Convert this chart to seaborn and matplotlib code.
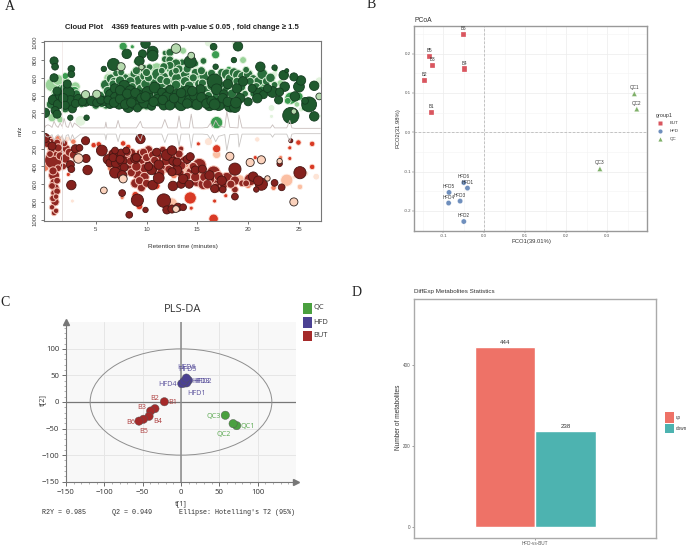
import matplotlib
matplotlib.use("Agg")
import matplotlib.pyplot as plt
from matplotlib.patches import Ellipse, Rectangle
import pandas as pd
import seaborn as sns

sns.set_theme(style="white")
plt.rcParams["font.family"] = ["Liberation Sans", "DejaVu Sans"]
W, H = 686, 546
fig = plt.figure(figsize=(W / 100, H / 100), dpi=100, facecolor="white")


def ax_px(l, t, r, b):
    return fig.add_axes([l / W, 1 - b / H, (r - l) / W, (b - t) / H])


def ftext(x, y, s, **k):
    k.setdefault("va", "center")
    return fig.text(x / W, 1 - y / H, s, **k)


def frect(x0, y0, x1, y1, color):
    fig.add_artist(Rectangle((x0 / W, 1 - y1 / H), (x1 - x0) / W, (y1 - y0) / H,
                             transform=fig.transFigure, fc=color, ec="none"))


# ---------- Panel A data: (retention time, m/z, bubble diameter) ----------
trace_rt = [0, .1, .3, .5, .7, .9, 1.1, 1.3, 1.5, 1.7, 1.9, 2.1, 2.3, 2.5, 2.7, 2.9, 3.5, 5, 5.9, 6.0, 6.1, 7, 7.2, 7.4, 8, 9, 9.4, 9.6, 9.8, 11.5,
            11.8, 12.1, 13, 13.2, 13.4, 14.2, 14.4, 14.6, 15.5, 16, 16.3, 16.5, 16.8, 17.1, 17.7, 17.9, 18.2, 19, 19.1, 19.4, 20, 22.2, 22.4, 22.6, 23.8, 24.1, 24.3, 24.6, 27.1]
trace_top = [40, 60, 70, 60, 40, 110, 60, 40, 90, 50, 140, 50, 40, 110, 40, 90, 35, 35, 35, 100, 35, 35, 120, 35, 35, 35, 110, 40, 35, 35,
             130, 35, 35, 170, 35, 35, 190, 35, 35, 40, 90, 40, 120, 60, 40, 220, 40, 35, 180, 35, 35, 35, 70, 35, 35, 120, 35, 30, 30]
tic_x = [1.7, 1.7]
tic_y = [30, 1015]

top_faint = [(16.1, 995, 6), (18.6, 995, 4), (3.5, 115, 8), (27, 565, 6), (27, 170, 3), (22.3, 260, 5), (25.2, 245, 4), (22.3, 165, 3),
             (12.0, 680, 5), (14.8, 690, 6), (22.6, 640, 5), (20.3, 660, 4), (16.9, 720, 3), (8.7, 590, 6), (6.3, 650, 5)]
top_light = [(0.7, 520, 10), (1.3, 575, 8), (2.1, 560, 6), (3.0, 500, 7), (6.2, 600, 6), (0.7, 150, 6), (1.5, 130, 5), (7.5, 610, 7), (11, 700, 9),
             (13.6, 905, 5), (19.5, 800, 5), (12.9, 930, 7), (24.8, 300, 4), (9.4, 640, 6), (23.2, 540, 5), (1.0, 430, 6), (15.3, 590, 6), (18.4, 530, 6), (20.8, 430, 5), (8.3, 610, 5), (12.9, 500, 5)]
top_mid = [(7.7, 955, 6), (8.6, 950, 3), (16.9, 95, 9), (16.8, 860, 6), (24.2, 370, 9), (1.6, 480, 6), (2.9, 450, 7), (2.0, 620, 5), (10.4, 560, 6), (12.3, 690, 5),
           (15.0, 640, 6), (19.4, 470, 5), (21.2, 510, 6), (23.9, 340, 5), (25.0, 390, 6), (6.3, 350, 5), (9.7, 350, 6), (16.2, 570, 5), (25.5, 260, 4), (18.1, 700, 4), (22.7, 690, 3), (8.2, 880, 3), (9.0, 780, 4)]
top_edge_pale = [(12.9, 930, 7), (14.4, 850, 5), (7.5, 725, 6), (4.0, 410, 6), (5.1, 415, 6), (27, 390, 5), (24.5, 220, 4), (9.5, 720, 4)]
top_white_dark = [(5.5, 400, 6), (6.0, 520, 8), (6.5, 590, 7), (8.9, 640, 8), (9.3, 560, 9), (9.8, 620, 7), (10.6, 570, 8), (11.1, 640, 9), (11.7, 610, 7), (12.2, 540, 8),
                  (12.6, 650, 7), (13.0, 590, 8), (13.4, 510, 9), (13.8, 640, 7), (14.3, 570, 8), (14.8, 660, 6), (15.2, 530, 7), (15.7, 620, 8), (16.4, 650, 6), (17.0, 600, 7),
                  (17.4, 660, 6), (17.9, 640, 8), (18.2, 590, 7), (18.6, 660, 7), (19.0, 630, 8), (19.5, 610, 8), (20.0, 640, 7), (20.5, 590, 6), (21.0, 560, 7), (21.4, 640, 8),
                  (21.8, 560, 6), (22.2, 600, 7), (22.6, 520, 5), (9.5, 470, 8), (11.5, 500, 7), (11.8, 880, 4), (12.3, 885, 6), (11.8, 810, 5), (12.3, 800, 6), (13.5, 775, 5),
                  (12.9, 760, 7), (12.3, 740, 6), (11.7, 725, 6), (9.7, 705, 6), (15.6, 790, 5), (14.8, 760, 5), (13.2, 700, 6), (14.0, 700, 6), (10.3, 720, 5), (6.8, 560, 6),
                  (7.9, 600, 6), (8.1, 500, 6), (12.0, 440, 8), (13.0, 300, 7), (14.9, 380, 8), (16.6, 380, 8), (17.7, 360, 7), (18.9, 400, 7), (10.0, 290, 7), (6.0, 300, 7), (5.0, 290, 6),
                  (0.6, 300, 7), (1.0, 380, 7), (1.7, 320, 6), (2.0, 250, 6), (1.9, 480, 7), (3.1, 420, 6), (3.6, 300, 5), (5.0, 350, 6), (5.6, 310, 6), (6.2, 450, 7), (6.7, 530, 6), (7.4, 570, 7),
                  (7.1, 440, 7), (8.0, 400, 7), (8.4, 560, 7), (8.6, 500, 6), (9.0, 340, 7), (9.4, 290, 7), (9.9, 530, 7), (10.2, 600, 6), (10.7, 400, 7), (11.1, 420, 7), (11.4, 580, 6), (12.0, 560, 6),
                  (12.4, 400, 7), (12.9, 520, 7), (13.2, 360, 6), (13.8, 560, 7), (14.2, 510, 7), (14.6, 300, 7), (14.6, 600, 6), (15.1, 420, 7), (15.5, 540, 6), (15.9, 460, 7), (16.1, 400, 6), (16.4, 510, 7),
                  (17.3, 520, 6), (17.5, 300, 6), (17.9, 460, 7), (18.4, 420, 7), (18.9, 560, 6), (19.3, 500, 7), (19.7, 420, 5), (20.2, 560, 6), (20.5, 420, 5), (20.8, 500, 6), (21.3, 470, 5),
                  (9.0, 680, 6), (10.0, 660, 6), (11.5, 680, 5), (12.9, 680, 5), (15.4, 680, 6), (19.8, 690, 5), (7.0, 650, 5), (7.5, 660, 5)]
top_black_dark = [(0.8, 350, 7), (1.3, 300, 7), (1.0, 230, 6), (1.5, 400, 7), (2.3, 430, 9), (2.5, 330, 9), (2.7, 250, 6), (1.2, 450, 6), (0.9, 600, 6), (2.2, 530, 6), (3.3, 360, 7), (3.0, 310, 6),
                  (4.0, 340, 8), (4.6, 340, 7), (5.3, 330, 6), (5.9, 340, 7), (6.4, 300, 6), (6.5, 410, 8), (6.9, 480, 7), (7.0, 370, 9), (7.3, 300, 7), (7.6, 420, 8), (7.8, 510, 8), (8.0, 340, 9),
                  (8.2, 270, 8), (8.4, 450, 8), (8.7, 370, 7), (8.8, 300, 7), (9.1, 260, 6), (9.2, 410, 7), (9.8, 320, 8), (10.1, 440, 8), (10.3, 380, 6), (10.5, 280, 6), (10.8, 490, 8), (11.2, 350, 9),
                  (11.5, 440, 6), (11.7, 290, 7), (12.0, 380, 8), (12.3, 470, 6), (12.6, 320, 7), (13.0, 420, 7), (13.4, 290, 8), (13.6, 370, 9), (14.0, 450, 8), (14.3, 340, 9), (14.7, 400, 7), (15.0, 300, 8),
                  (15.3, 470, 7), (15.8, 350, 7), (16.2, 290, 8), (16.7, 560, 11), (16.9, 470, 8), (17.1, 300, 9), (17.6, 420, 6), (18.0, 530, 7), (18.3, 290, 10), (18.7, 270, 8), (18.9, 480, 7), (19.2, 370, 7),
                  (19.5, 560, 7), (20.0, 330, 6), (21.0, 430, 7), (21.5, 410, 6), (22.4, 440, 8), (23.0, 350, 6), (23.6, 500, 7), (24.6, 390, 7), (25.0, 500, 8), (9.9, 985, 7), (19.0, 955, 7), (16.6, 950, 5),
                  (10.6, 895, 8), (10.6, 850, 8), (8.05, 870, 7), (9.6, 870, 6), (0.9, 790, 6), (1.0, 725, 5), (2.6, 700, 5), (2.6, 640, 5), (6.75, 750, 9), (5.8, 700, 4), (9.3, 790, 7), (14.3, 780, 9),
                  (21.2, 725, 7), (23.5, 630, 7), (25.2, 570, 7), (24.5, 610, 6), (26.5, 510, 7), (26, 300, 11), (26.5, 165, 7), (24.2, 175, 12), (0, 205, 7), (4.1, 150, 4), (2.5, 150, 4), (1.2, 190, 6),
                  (22.6, 715, 4), (23.8, 680, 3), (18.6, 800, 4), (16.8, 725, 4), (25.6, 340, 5), (23.1, 440, 6), (20.4, 480, 6), (20.9, 370, 7), (21.9, 480, 6),
                  (1.8, 370, 7), (2.0, 290, 6), (3.7, 330, 6), (5.1, 320, 6), (5.5, 350, 6), (6.2, 350, 6), (6.8, 320, 7), (7.4, 360, 7), (7.4, 460, 7), (7.9, 300, 7), (8.5, 320, 7), (8.1, 420, 7), (8.9, 430, 7),
                  (9.5, 370, 7), (9.9, 390, 7), (10.7, 330, 7), (11.6, 350, 7), (12.3, 290, 7), (12.7, 370, 7), (13.4, 430, 7), (14.0, 310, 7), (14.5, 450, 7), (15.4, 380, 7), (15.9, 310, 7), (16.4, 340, 7),
                  (16.7, 300, 8), (17.5, 370, 7), (18.0, 330, 7), (18.8, 320, 8)]

bot_faint = [(25.7, 480, 4), (26.7, 515, 5), (20.9, 95, 4), (16.1, 120, 6), (8.7, 740, 4), (2.7, 790, 3), (24.5, 520, 3), (1.6, 100, 5), (12.5, 560, 4), (2.2, 90, 4), (7.4, 530, 5)]
bot_peach = [(23.8, 555, 9), (12.5, 815, 8), (16.9, 265, 6), (3.2, 250, 5), (9.9, 300, 6), (14.0, 420, 7), (0.5, 200, 5), (25.1, 630, 4), (19.2, 540, 6), (16.0, 560, 5)]
bot_salmon = [(0, 410, 6), (6.6, 410, 7), (22.5, 640, 4), (20.0, 610, 5), (12.7, 500, 5), (15.2, 460, 5), (2.8, 120, 4), (1.3, 90, 5), (3.0, 320, 4), (13.9, 380, 4), (7.6, 750, 3), (23.2, 300, 3)]
bot_mid = [(16.6, 990, 7), (16.9, 200, 6), (14.3, 755, 9), (24.95, 130, 4), (26.3, 145, 4), (26.3, 405, 4), (24.1, 190, 3), (24.1, 310, 3), (4.8, 160, 4), (5.3, 150, 4), (8.2, 180, 4), (2.3, 490, 3),
           (11.0, 620, 5), (16.7, 790, 3), (17.8, 730, 3), (14.4, 870, 3), (9.3, 850, 5), (8.9, 720, 5), (20.7, 300, 3), (7.7, 140, 4), (15.1, 145, 3)]
bot_edged_pale = [(18.2, 285, 6), (21.3, 325, 6), (20.2, 355, 6), (3.3, 310, 7), (5.8, 670, 5), (24.5, 800, 6), (21.9, 535, 4), (7.7, 540, 6), (12.9, 880, 5), (23.1, 340, 4)]
bot_white_dark = [(0.83, 330, 13), (0.9, 500, 8), (0.9, 580, 6), (1.0, 640, 6), (0.9, 700, 5), (1.0, 800, 6), (0.9, 925, 4), (0.3, 100, 7), (0.6, 130, 6), (1.2, 130, 5), (1.6, 210, 6), (2.1, 200, 6),
                  (1.0, 240, 6), (1.5, 280, 6), (2.0, 310, 7), (1.8, 400, 5), (9.2, 480, 9), (9.4, 330, 8), (9.4, 260, 7), (9.8, 420, 7), (8.9, 590, 7), (9.5, 640, 6), (10.3, 360, 7), (11.1, 300, 7),
                  (11.7, 410, 8), (12.2, 330, 8), (12.7, 400, 9), (13.3, 470, 6), (13.7, 340, 7), (14.4, 470, 8), (15.2, 385, 10), (15.0, 560, 9), (15.6, 600, 8), (16.6, 470, 10), (16.8, 570, 13), (17.9, 535, 9),
                  (16.2, 540, 8), (16.9, 640, 7), (18.7, 560, 7), (19.4, 590, 5), (18.7, 660, 5), (20.2, 550, 9), (8.5, 250, 7), (10.2, 210, 6), (11.6, 210, 5), (13.4, 200, 4), (8.0, 300, 6), (8.5, 400, 6), (6.9, 440, 6),
                  (0.2, 140, 6), (0.7, 200, 6), (0.5, 260, 5), (1.3, 190, 6), (1.9, 140, 5), (2.4, 240, 6), (2.8, 270, 6), (1.3, 420, 5), (0.8, 450, 6), (1.2, 560, 5), (0.7, 620, 5), (1.2, 680, 5), (0.8, 760, 5),
                  (1.1, 740, 4), (0.7, 860, 4), (1.1, 900, 4), (6.6, 260, 6), (7.3, 420, 6), (8.1, 240, 6), (8.4, 340, 6), (8.5, 470, 6), (9.0, 400, 7), (9.7, 240, 6), (9.8, 520, 7), (9.3, 560, 6), (10.0, 300, 6),
                  (10.0, 590, 6), (10.6, 270, 6), (10.8, 330, 6), (11.0, 440, 7), (11.4, 470, 6), (11.9, 340, 7), (12.2, 430, 6), (12.9, 300, 6), (13.2, 260, 6), (13.4, 390, 7), (14.0, 510, 6), (14.6, 400, 6),
                  (14.8, 520, 7), (15.7, 520, 7), (16.0, 600, 7), (17.1, 510, 7), (17.6, 610, 6), (18.3, 600, 6), (19.8, 590, 5)]
bot_black_dark = [(5.6, 220, 8), (0, 80, 7), (0.7, 170, 6), (2.6, 610, 7), (4.2, 440, 7), (4.05, 310, 6), (4, 110, 6), (2.5, 380, 6), (2.6, 430, 5), (3.0, 200, 6), (3.4, 190, 5), (6.2, 320, 7), (6.4, 360, 6),
                  (6.8, 260, 7), (7.0, 360, 7), (7.2, 290, 7), (7.5, 250, 6), (7.6, 340, 7), (7.8, 410, 6), (6.9, 470, 8), (7.6, 500, 7), (8.9, 310, 7), (9.4, 90, 7), (8.3, 945, 5), (7.6, 700, 5), (9.1, 780, 9),
                  (10.6, 610, 7), (11.2, 530, 8), (10.5, 440, 7), (11.7, 785, 10), (12.0, 270, 8), (12.5, 220, 7), (12.0, 890, 6), (12.6, 620, 7), (13.4, 600, 6), (12.5, 880, 6), (13.1, 860, 6), (13.6, 860, 5),
                  (14.0, 320, 6), (13.6, 540, 7), (13.0, 440, 7), (14.2, 600, 6), (11.2, 380, 7), (12.5, 460, 6), (18.7, 430, 9), (21.3, 600, 9), (20.5, 515, 7), (22.6, 585, 5), (23.3, 635, 5), (25.1, 470, 9), (20.8, 660, 4),
                  (17.4, 560, 7), (17.5, 660, 5), (18.7, 740, 5), (16.7, 650, 6), (21.0, 560, 7), (9.9, 890, 4), (24.2, 110, 3), (23.1, 370, 4),
                  (6.7, 300, 6), (7.4, 320, 6), (6.9, 220, 5), (8.0, 220, 5), (9.0, 300, 6), (10.2, 400, 6), (11.0, 240, 6), (12.6, 340, 6), (13.0, 350, 6), (14.3, 290, 6), (14.8, 440, 6), (15.5, 430, 6), (16.2, 500, 7)]

# ---------- Panel B data ----------
pco_names = ["B1", "B2", "B3", "B4", "B5", "B6", "HFD1", "HFD2", "HFD3", "HFD4", "HFD5", "HFD6", "QC1", "QC2", "QC3"]
pco_group = ["BUT"] * 6 + ["HFD"] * 6 + ["QC"] * 3
pco1 = [-.128, -.1455, -.127, -.048, -.134, -.0512, -.041, -.05, -.059, -.087, -.086, -.05, .366, .372, .282]
pco2 = [.05, .132, .170, .161, .193, .248, -.142, -.227, -.175, -.18, -.153, -.128, .098, .059, -.093]
pco_colors = {"BUT": "#d9565f", "HFD": "#6f8fbd", "QC": "#7fb069"}

# ---------- Panel C data ----------
pls_names = ["B1", "B2", "B3", "B4", "B5", "B6", "HFD1", "HFD2", "HFD3", "HFD4", "HFD5", "HFD6", "QC1", "QC2", "QC3"]
pls_group = pco_group
t1 = [-21.7, -34, -39.6, -41.7, -49, -54.8, 4.3, 9.6, 7.4, 1, 4, 7, 72.6, 68, 57.8]
t2 = [.5, -12.5, -17, -27, -32.5, -36, 35.7, 40.7, 36, 34.5, 39, 45, -44.5, -40.7, -25]
pls_lab_x = [-11.3, -34, -51.3, -30.4, -49, -66, 20.4, 27.8, 26, -17, 8.3, 7.4, 87, 55.7, 43]
pls_lab_y = [-.6, 7.5, -10, -36.3, -55, -38, 15.6, 38.8, 38.8, 33.8, 60.7, 65, -46.3, -60.7, -27]
pls_colors = {"BUT": "#a52a2a", "HFD": "#4b4193", "QC": "#4aa03f"}

# ---------- Panel D data ----------
de_comp = ["HFD-vs-BUT", "HFD-vs-BUT"]
de_dir = ["up", "down"]
de_count = [444, 238]
de_colors = {"up": "#EE7267", "down": "#4DB3B0"}

# ========== Panel A ==========
axA = ax_px(44, 41, 321, 221)
axA.set_xlim(-0.09, 27.17)
axA.set_ylim(-1015, 1015)


def bubbles(rows, sign, face, edge, lw=0.6):
    d = pd.DataFrame(rows, columns=["rt", "mz", "dia"])
    sns.scatterplot(x=d["rt"], y=sign * d["mz"], s=(d["dia"] * 1.35 * 0.72) ** 2, color=face, edgecolor=edge,
                    linewidth=lw, ax=axA, legend=False, clip_on=True)


trace = pd.DataFrame({"rt": trace_rt, "top": trace_top})
sns.lineplot(x=trace["rt"], y=trace["top"], color="#c9bfbd", lw=0.6, ax=axA, estimator=None, sort=False)
sns.lineplot(x=trace["rt"], y=-trace["top"], color="#c9c6c4", lw=0.6, ax=axA, estimator=None, sort=False)
axA.plot(tic_x, tic_y, color="#eee5e3", lw=0.5)
axA.plot(tic_x, [-v for v in tic_y], color="#ddd5d3", lw=0.6)

bubbles(top_faint, 1, "#e2f3dd", "#ffffff")
bubbles(top_light, 1, "#9ad39a", "#e8f5e4")
bubbles(top_mid, 1, "#3b9c50", "#dff0da")
bubbles(top_white_dark, 1, "#2a6f3c", "#d9eed5", 0.7)
bubbles(top_black_dark, 1, "#1f5a2e", "#143d20", 0.6)
bubbles(top_edge_pale, 1, "#b5d9ae", "#2a3a2a", 0.6)

bubbles(bot_faint, -1, "#fde4d6", "#ffffff")
bubbles(bot_peach, -1, "#fbbfa3", "#fff0e8")
bubbles(bot_salmon, -1, "#ee7d5e", "#ffe5da")
bubbles(bot_mid, -1, "#d93a25", "#fde0d5")
bubbles(bot_white_dark, -1, "#8f2722", "#f6c4b6", 0.7)
bubbles(bot_black_dark, -1, "#85211d", "#4a1512", 0.6)
bubbles(bot_edged_pale, -1, "#fbd2bc", "#33241f", 0.6)

axA.set_xlabel("")
axA.set_ylabel("")
axA.set_xticks([5, 10, 15, 20, 25])
yt = [-1000, -800, -600, -400, -200, 0, 200, 400, 600, 800, 1000]
axA.set_yticks(yt)
axA.set_yticklabels([str(abs(v)) for v in yt], rotation=90, va="center")
axA.tick_params(axis="both", labelsize=4.3, colors="#444444", length=2.5, width=0.5, pad=2, left=True, bottom=True)
for s in axA.spines.values():
    s.set_color("#777777")
    s.set_linewidth(0.8)
ftext(182, 27, "Cloud Plot    4369 features with p-value \u2264 0.05 , fold change \u2265 1.5", ha="center", fontsize=5.5,
      fontweight="bold", color="#222222")
ftext(20, 131, "m/z", rotation=90, ha="center", fontsize=4.6, color="#333333")
ftext(183, 247, "Retention time (minutes)", ha="center", fontsize=4.6, color="#333333")

# ========== Panel B ==========
axB = ax_px(414.3, 25.7, 647.3, 231)
axB.set_xlim(-0.1707, 0.3976)
axB.set_ylim(-0.2511, 0.2712)
axB.set_xticks([-.15, -.05, .05, .15, .25, .35], minor=True)
axB.set_yticks([-.25, -.15, -.05, .05, .15, .25], minor=True)
axB.grid(True, which="major", color="#ececec", lw=0.5)
axB.grid(True, which="minor", color="#f3f3f3", lw=0.4)
axB.set_axisbelow(True)
axB.axvline(0, color="#bbbbbb", lw=0.6, ls=(0, (3, 2)))
axB.axhline(0, color="#bbbbbb", lw=0.6, ls=(0, (3, 2)))
dfB = pd.DataFrame({"pco1": pco1, "pco2": pco2, "group": pco_group})
sns.scatterplot(data=dfB, x="pco1", y="pco2", hue="group", style="group", palette=pco_colors,
                markers={"BUT": "s", "HFD": "o", "QC": "^"}, s=14, linewidth=0.2, edgecolor="white", ax=axB, legend=False)
for n, x, y in zip(pco_names, pco1, pco2):
    axB.annotate(n, (x, y), xytext=(0, 2.5), textcoords="offset points", ha="center", va="bottom", fontsize=3.3, color="#333333")
axB.set_xticks([-.1, 0, .1, .2, .3])
axB.set_xticklabels(["-0.1", "0.0", "0.1", "0.2", "0.3"])
axB.set_yticks([-.2, -.1, 0, .1, .2])
axB.set_yticklabels(["-0.2", "-0.1", "0.0", "0.1", "0.2"])
axB.tick_params(axis="both", which="major", labelsize=3.2, colors="#555555", length=1.2, width=0.3, pad=1.2, left=True, bottom=True)
axB.tick_params(axis="both", which="minor", length=0)
axB.set_xlabel("")
axB.set_ylabel("")
for s in axB.spines.values():
    s.set_color("#999999")
    s.set_linewidth(1.0)
ftext(414, 20, "PCoA", fontsize=4.9, color="#333333")
ftext(531, 241, "PCO1(39.01%)", ha="center", fontsize=4.2, color="#333333")
ftext(398, 128, "PCO2(31.98%)", ha="center", rotation=90, fontsize=4.2, color="#333333")
ftext(656, 116, "group1", fontsize=3.9, color="#333333")
for yy, g, m in [(123, "BUT", "s"), (131, "HFD", "o"), (139, "QC", "^")]:
    fig.add_artist(plt.Line2D([660 / W], [1 - yy / H], marker=m, ms=3, color=pco_colors[g], mec="none", transform=fig.transFigure))
    ftext(670, yy, g, fontsize=3.2, color="#333333")

# ========== Panel C ==========
axC = ax_px(66, 322.3, 296, 481.7)
axC.set_xlim(-150, 150)
axC.set_ylim(-150, 150)
axC.set_facecolor("#f8f8f8")
axC.set_xticks([-100, -50, 0, 50, 100, -150])
axC.set_yticks([-150, -100, -50, 0, 50, 100])
axC.grid(True, color="#e6e6e6", lw=0.7)
axC.set_axisbelow(True)
axC.set_xticks(list(range(-140, 150, 10)), minor=True)
axC.set_yticks(list(range(-140, 150, 10)), minor=True)
axC.axhline(0, color="#777777", lw=0.9, zorder=1)
axC.axvline(0, color="#888888", lw=1.1, zorder=1)
axC.add_patch(Ellipse((0, 0), 237, 200, fc="none", ec="#8e8e8e", lw=0.7, zorder=2))
dfC = pd.DataFrame({"t1": t1, "t2": t2, "group": pls_group})
sns.scatterplot(data=dfC, x="t1", y="t2", hue="group", palette=pls_colors, s=36, linewidth=0.3, edgecolor="#555555",
                ax=axC, legend=False, zorder=3)
for n, g, x, y in zip(pls_names, pls_group, pls_lab_x, pls_lab_y):
    axC.text(x, y, n, ha="center", va="center", fontsize=5.2, color=pls_colors[g], alpha=.9, family="Open Sans", zorder=4)
axC.set_xlabel("")
axC.set_ylabel("")
axC.tick_params(axis="both", which="major", labelsize=5.6, colors="#333333", length=3, width=0.5, pad=2, left=True, bottom=True)
axC.tick_params(axis="both", which="minor", length=1.5, width=0.4, color="#777777", left=True, bottom=True)
for s in ["top", "right"]:
    axC.spines[s].set_visible(False)
for s in ["left", "bottom"]:
    axC.spines[s].set_color("#777777")
    axC.spines[s].set_linewidth(0.8)
axC.plot(1, 0, ">", transform=axC.transAxes, color="#777777", ms=4, clip_on=False)
axC.plot(0, 1, "^", transform=axC.transAxes, color="#777777", ms=4, clip_on=False)
for lbl in axC.get_xticklabels() + axC.get_yticklabels():
    lbl.set_family("Open Sans")
ftext(183, 309, "PLS-DA", ha="center", fontsize=8, family="Open Sans", color="#333333")
ftext(181, 504, "t[1]", ha="center", fontsize=5.4, family="Open Sans", color="#333333")
ftext(43, 400, "t[2]", rotation=90, ha="center", fontsize=5.4, family="Open Sans", color="#333333")
ftext(42, 513, "R2Y = 0.985", fontsize=4.9, family="Liberation Mono", color="#333333")
ftext(112, 513, "Q2 = 0.949", fontsize=4.9, family="Liberation Mono", color="#333333")
ftext(179, 513, "Ellipse: Hotelling's T2 (95%)", fontsize=4.9, family="Liberation Mono", color="#333333")
for y0, y1, g, lab in [(302.5, 313.5, "QC", "QC"), (316.5, 327.5, "HFD", "HFD"), (330.5, 341, "BUT", "BUT")]:
    frect(303, y0, 312, y1, pls_colors[g])
    ftext(313.5, (y0 + y1) / 2, lab, fontsize=5.4, family="Open Sans", color="#333333")

# ========== Panel D ==========
axD = ax_px(414, 299.3, 656.3, 538)
dfD = pd.DataFrame({"comp": de_comp, "dir": de_dir, "n": de_count})
sns.barplot(data=dfD, x="comp", y="n", hue="dir", palette=de_colors, saturation=1, width=0.8, ax=axD, legend=False)
axD.set_xlim(-0.8, 0.8)
axD.set_ylim(-26.3, 560.6)
axD.set_yticks([0, 200, 400])
for c in axD.containers:
    axD.bar_label(c, fontsize=4.4, color="#333333", padding=1)
axD.set_xlabel("")
axD.set_ylabel("")
axD.tick_params(axis="both", labelsize=3.3, colors="#555555", length=1.3, width=0.4, pad=1.2, left=True, bottom=True)
for s in axD.spines.values():
    s.set_color("#aaaaaa")
    s.set_linewidth(1.0)
ftext(414, 291, "DiffExp Metabolites Statistics", fontsize=4.5, color="#333333")
ftext(398, 417, "Number of metabolites", rotation=90, ha="center", fontsize=4.7, color="#333333")
frect(665, 412, 674, 423, de_colors["up"])
frect(665, 423.5, 674, 433, de_colors["down"])
ftext(675.5, 418, "up", fontsize=3.3, color="#333333")
ftext(675.5, 428, "down", fontsize=3.3, color="#333333")

# ---------- Panel letters ----------
for x, y, s in [(5, 7, "A"), (367, 5, "B"), (0, 302, "C"), (352, 293, "D")]:
    ftext(x, y, s, fontsize=10, family="Liberation Serif", color="#222222")

fig.savefig("out.png", dpi=100)
